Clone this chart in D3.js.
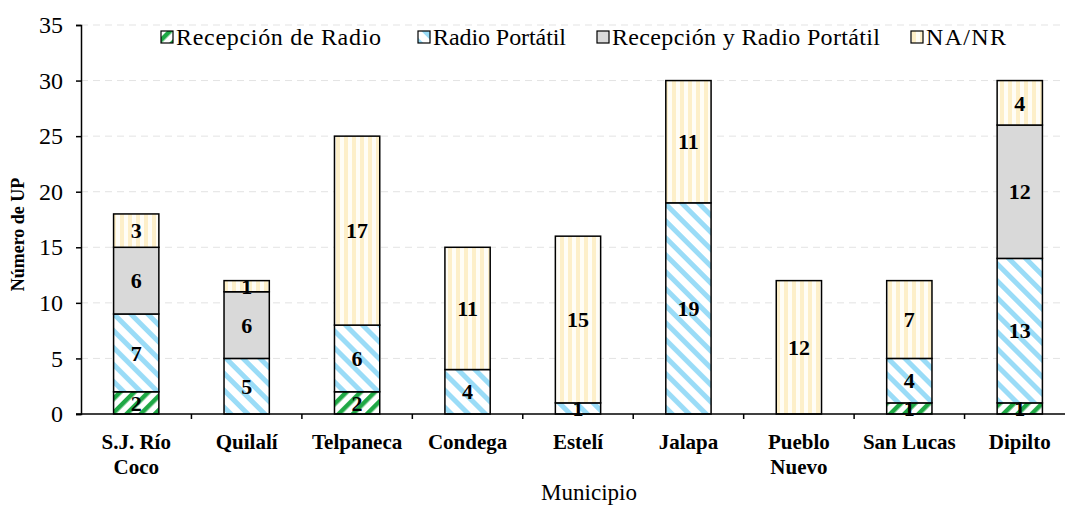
<!DOCTYPE html>
<html>
<head>
<meta charset="utf-8">
<script src="https://cdn.jsdelivr.net/npm/d3@7"></script>
<style>
  body { margin: 0; background: #fff; }
  svg, svg text { font-family: "Liberation Serif", "Times New Roman", Times, "DejaVu Serif", serif; }
  .seg { stroke: #000; stroke-width: 1.5; }
  .lbl { font-weight: bold; font-size: 22px; }
</style>
</head>
<body>
<svg id="chart" width="1065" height="506"></svg>
<script>
// data
const municipios = [["S.J. Río", "Coco"], ["Quilalí"], ["Telpaneca"], ["Condega"], ["Estelí"], ["Jalapa"], ["Pueblo", "Nuevo"], ["San Lucas"], ["Dipilto"]];
const series = ["Recepción de Radio", "Radio Portátil", "Recepción y Radio Portátil", "NA/NR"];
const recepcion = [2, 0, 2, 0, 0, 0, 0, 1, 1];
const portatil = [7, 5, 6, 4, 1, 19, 0, 4, 13];
const ambos = [6, 6, 0, 0, 0, 0, 0, 0, 12];
const nanr = [3, 1, 17, 11, 15, 11, 12, 7, 4];
const yTicks = [0, 5, 10, 15, 20, 25, 30, 35];

const svg = d3.select('#chart');
const margin = { top: 25, right: -10, bottom: 92, left: 81 };
const width = 1065, height = 506;

const defs = svg.append('defs');
function stripes(id, size, angle, bg, fg, w) {
  const p = defs.append('pattern').attr('id', id).attr('patternUnits', 'userSpaceOnUse')
    .attr('width', size).attr('height', size).attr('patternTransform', `rotate(${angle})`);
  p.append('rect').attr('width', size).attr('height', size).attr('fill', bg);
  p.append('rect').attr('width', w).attr('height', size).attr('fill', fg);
}
stripes('p-rec', 10, 45, '#fff', '#1fa845', 4.5);
stripes('p-port', 12, -45, '#fff', '#9adcf7', 5);
stripes('p-na', 8, 0, '#fffdf6', '#fdefc9', 4);
const fills = ['url(#p-rec)', 'url(#p-port)', '#d9d9d9', 'url(#p-na)'];

const x = d3.scaleBand().domain(d3.range(municipios.length))
  .range([margin.left, width - margin.right]).paddingInner(0.59).paddingOuter(0.295);
const y = d3.scaleLinear().domain([0, 35]).range([height - margin.bottom, margin.top]);

// gridlines
svg.append('g').selectAll('line').data(yTicks.slice(1)).join('line')
  .attr('x1', margin.left).attr('x2', width)
  .attr('y1', d => y(d)).attr('y2', d => y(d))
  .attr('stroke', '#e3e3e3').attr('stroke-width', 1).attr('stroke-dasharray', '7,5');

const rows = municipios.map((m, i) => [recepcion[i], portatil[i], ambos[i], nanr[i]]);
const stackData = rows.map((r, i) => { const o = { i }; r.forEach((v, k) => o[k] = v); return o; });
const stacked = d3.stack().keys([0, 1, 2, 3])(stackData);

stacked.forEach((layer, k) => {
  const g = svg.append('g');
  layer.forEach((d, i) => {
    const v = d[1] - d[0];
    if (v <= 0) return;
    g.append('rect').attr('class', 'seg')
      .attr('x', x(i)).attr('width', x.bandwidth())
      .attr('y', y(d[1])).attr('height', y(d[0]) - y(d[1]))
      .attr('fill', fills[k]);
  });
});
stacked.forEach((layer) => {
  layer.forEach((d, i) => {
    const v = d[1] - d[0];
    if (v <= 0) return;
    svg.append('text').attr('class', 'lbl')
      .attr('x', x(i) + x.bandwidth() / 2).attr('y', y((d[0] + d[1]) / 2))
      .attr('dy', '0.35em').attr('text-anchor', 'middle').text(v);
  });
});

// axes
const yAxis = d3.axisLeft(y).tickValues(yTicks).tickSize(5).tickPadding(13);
const ya = svg.append('g').attr('transform', `translate(${margin.left},0)`).call(yAxis)
  .attr('font-family', null);
ya.select('.domain').attr('stroke-width', 1.5);
ya.selectAll('.tick line').attr('stroke-width', 1.5);
ya.selectAll('text').attr('font-size', 24);

const xa = svg.append('g').attr('transform', `translate(0,${y(0)})`);
xa.append('line').attr('x1', margin.left - 5).attr('x2', width).attr('stroke', '#000').attr('stroke-width', 1.5);
const step = x.step();
xa.selectAll('.tk').data(d3.range(1, municipios.length)).join('line')
  .attr('x1', i => x(i) - (step - x.bandwidth()) / 2).attr('x2', i => x(i) - (step - x.bandwidth()) / 2)
  .attr('y1', 0).attr('y2', 5).attr('stroke', '#000').attr('stroke-width', 1.5);
municipios.forEach((lines, i) => {
  const t = xa.append('text').attr('text-anchor', 'middle').attr('font-weight', 'bold').attr('font-size', 21)
    .attr('x', x(i) + x.bandwidth() / 2).attr('y', 35);
  lines.forEach((s, j) => t.append('tspan').attr('x', x(i) + x.bandwidth() / 2).attr('dy', j ? 25 : 0).text(s));
});

svg.append('text').attr('x', 589).attr('y', 500).attr('text-anchor', 'middle').attr('font-size', 23).text('Municipio');
svg.append('text').attr('transform', `translate(24,${(y(0) + y(35)) / 2 + 15}) rotate(-90)`)
  .attr('text-anchor', 'middle').attr('font-size', 18).attr('font-weight', 'bold').text('Número de UP');

// legend
const legX = [161, 418, 597, 911];
const legW = [205, 133, 268, 80];
const leg = svg.append('g');
series.forEach((s, k) => {
  leg.append('rect').attr('x', legX[k]).attr('y', 31).attr('width', 12).attr('height', 12)
    .attr('fill', fills[k]).attr('stroke', '#000').attr('stroke-width', 1.2);
  leg.append('text').attr('x', legX[k] + 15).attr('y', 45).attr('font-size', 24)
    .attr('textLength', legW[k]).attr('lengthAdjust', 'spacing').text(s);
});
</script>
</body>
</html>
